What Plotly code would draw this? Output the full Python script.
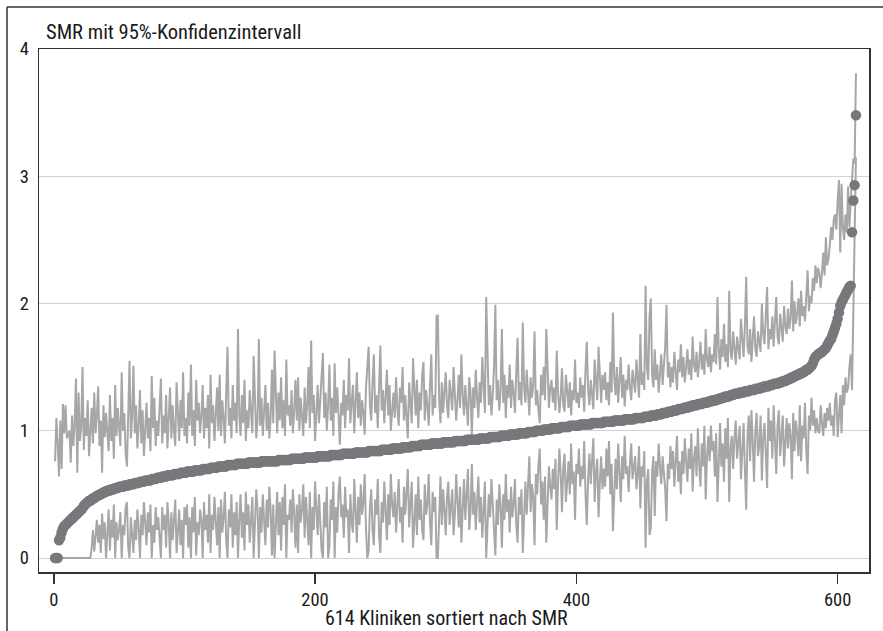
import plotly.graph_objects as go

# ---------------- data ----------------
clinic = list(range(1, 615))

smr = [
    0.00, 0.00, 0.00, 0.14, 0.16, 0.20, 0.23, 0.25, 0.26, 0.27, 0.28, 0.29, 0.30, 0.31, 0.32, 0.33, 0.34, 0.35, 0.36, 0.37,
    0.38, 0.39, 0.41, 0.42, 0.43, 0.44, 0.45, 0.45, 0.46, 0.47, 0.47, 0.48, 0.49, 0.49, 0.50, 0.50, 0.51, 0.51, 0.52, 0.52,
    0.53, 0.53, 0.53, 0.54, 0.54, 0.54, 0.55, 0.55, 0.55, 0.56, 0.56, 0.56, 0.56, 0.57, 0.57, 0.57, 0.57, 0.58, 0.58, 0.58,
    0.58, 0.59, 0.59, 0.59, 0.59, 0.60, 0.60, 0.60, 0.60, 0.61, 0.61, 0.61, 0.61, 0.61, 0.62, 0.62, 0.62, 0.62, 0.63, 0.63,
    0.63, 0.63, 0.64, 0.64, 0.64, 0.64, 0.65, 0.65, 0.65, 0.65, 0.65, 0.66, 0.66, 0.66, 0.66, 0.66, 0.67, 0.67, 0.67, 0.67,
    0.67, 0.68, 0.68, 0.68, 0.68, 0.68, 0.68, 0.69, 0.69, 0.69, 0.69, 0.69, 0.69, 0.70, 0.70, 0.70, 0.70, 0.70, 0.70, 0.71,
    0.71, 0.71, 0.71, 0.71, 0.71, 0.72, 0.72, 0.72, 0.72, 0.72, 0.72, 0.72, 0.73, 0.73, 0.73, 0.73, 0.73, 0.73, 0.73, 0.74,
    0.74, 0.74, 0.74, 0.74, 0.74, 0.74, 0.74, 0.74, 0.75, 0.75, 0.75, 0.75, 0.75, 0.75, 0.75, 0.75, 0.75, 0.75, 0.76, 0.76,
    0.76, 0.76, 0.76, 0.76, 0.76, 0.76, 0.76, 0.76, 0.76, 0.76, 0.76, 0.77, 0.77, 0.77, 0.77, 0.77, 0.77, 0.77, 0.77, 0.77,
    0.77, 0.78, 0.78, 0.78, 0.78, 0.78, 0.78, 0.78, 0.78, 0.78, 0.78, 0.79, 0.79, 0.79, 0.79, 0.79, 0.79, 0.79, 0.79, 0.79,
    0.79, 0.80, 0.80, 0.80, 0.80, 0.80, 0.80, 0.80, 0.80, 0.80, 0.80, 0.81, 0.81, 0.81, 0.81, 0.81, 0.81, 0.81, 0.81, 0.81,
    0.82, 0.82, 0.82, 0.82, 0.82, 0.82, 0.82, 0.82, 0.82, 0.82, 0.83, 0.83, 0.83, 0.83, 0.83, 0.83, 0.83, 0.83, 0.83, 0.83,
    0.84, 0.84, 0.84, 0.84, 0.84, 0.84, 0.84, 0.84, 0.84, 0.84, 0.85, 0.85, 0.85, 0.85, 0.85, 0.85, 0.85, 0.85, 0.86, 0.86,
    0.86, 0.86, 0.86, 0.86, 0.86, 0.86, 0.87, 0.87, 0.87, 0.87, 0.87, 0.87, 0.87, 0.88, 0.88, 0.88, 0.88, 0.88, 0.88, 0.88,
    0.89, 0.89, 0.89, 0.89, 0.89, 0.89, 0.89, 0.89, 0.90, 0.90, 0.90, 0.90, 0.90, 0.90, 0.90, 0.90, 0.90, 0.91, 0.91, 0.91,
    0.91, 0.91, 0.91, 0.91, 0.91, 0.91, 0.92, 0.92, 0.92, 0.92, 0.92, 0.92, 0.92, 0.92, 0.92, 0.93, 0.93, 0.93, 0.93, 0.93,
    0.93, 0.93, 0.93, 0.93, 0.93, 0.94, 0.94, 0.94, 0.94, 0.94, 0.94, 0.94, 0.94, 0.95, 0.95, 0.95, 0.95, 0.95, 0.95, 0.95,
    0.95, 0.96, 0.96, 0.96, 0.96, 0.96, 0.96, 0.96, 0.97, 0.97, 0.97, 0.97, 0.97, 0.97, 0.97, 0.98, 0.98, 0.98, 0.98, 0.98,
    0.98, 0.98, 0.99, 0.99, 0.99, 0.99, 0.99, 0.99, 1.00, 1.00, 1.00, 1.00, 1.00, 1.00, 1.01, 1.01, 1.01, 1.01, 1.01, 1.01,
    1.02, 1.02, 1.02, 1.02, 1.02, 1.02, 1.02, 1.03, 1.03, 1.03, 1.03, 1.03, 1.03, 1.03, 1.04, 1.04, 1.04, 1.04, 1.04, 1.04,
    1.04, 1.04, 1.05, 1.05, 1.05, 1.05, 1.05, 1.05, 1.05, 1.05, 1.05, 1.06, 1.06, 1.06, 1.06, 1.06, 1.06, 1.06, 1.06, 1.06,
    1.07, 1.07, 1.07, 1.07, 1.07, 1.07, 1.07, 1.07, 1.08, 1.08, 1.08, 1.08, 1.08, 1.08, 1.08, 1.08, 1.09, 1.09, 1.09, 1.09,
    1.09, 1.09, 1.09, 1.09, 1.10, 1.10, 1.10, 1.10, 1.10, 1.10, 1.10, 1.11, 1.11, 1.11, 1.11, 1.11, 1.12, 1.12, 1.12, 1.12,
    1.12, 1.13, 1.13, 1.13, 1.13, 1.14, 1.14, 1.14, 1.14, 1.15, 1.15, 1.15, 1.15, 1.16, 1.16, 1.16, 1.16, 1.17, 1.17, 1.17,
    1.17, 1.18, 1.18, 1.18, 1.18, 1.19, 1.19, 1.19, 1.20, 1.20, 1.20, 1.20, 1.21, 1.21, 1.21, 1.21, 1.22, 1.22, 1.22, 1.22,
    1.23, 1.23, 1.23, 1.24, 1.24, 1.24, 1.24, 1.25, 1.25, 1.25, 1.26, 1.26, 1.26, 1.27, 1.27, 1.27, 1.27, 1.28, 1.28, 1.28,
    1.29, 1.29, 1.29, 1.29, 1.30, 1.30, 1.30, 1.30, 1.31, 1.31, 1.31, 1.31, 1.32, 1.32, 1.32, 1.32, 1.33, 1.33, 1.33, 1.33,
    1.34, 1.34, 1.34, 1.35, 1.35, 1.35, 1.35, 1.36, 1.36, 1.36, 1.37, 1.37, 1.37, 1.37, 1.38, 1.38, 1.38, 1.39, 1.39, 1.39,
    1.40, 1.40, 1.41, 1.41, 1.42, 1.42, 1.43, 1.43, 1.44, 1.44, 1.45, 1.45, 1.46, 1.46, 1.47, 1.48, 1.48, 1.49, 1.50, 1.51,
    1.53, 1.56, 1.58, 1.59, 1.60, 1.61, 1.61, 1.62, 1.63, 1.64, 1.65, 1.67, 1.69, 1.71, 1.72, 1.75, 1.78, 1.81, 1.84, 1.88,
    1.93, 1.98, 2.01, 2.03, 2.05, 2.07, 2.09, 2.11, 2.13, 2.14, 2.56, 2.81, 2.93, 3.48,
]

ci_upper = [
    0.76, 1.10, 0.90, 0.64, 1.08, 0.70, 1.21, 0.98, 1.20, 0.94, 0.97, 1.00, 0.75, 1.12, 0.88, 1.06, 1.41, 0.67, 1.30, 0.92,
    1.02, 1.50, 0.85, 1.10, 0.96, 1.24, 0.80, 1.05, 1.18, 0.90, 1.30, 0.98, 1.12, 1.35, 0.88, 1.08, 0.67, 1.20, 0.95, 1.14,
    1.02, 0.84, 1.28, 0.92, 1.10, 0.78, 1.36, 0.96, 1.18, 1.06, 0.88, 1.46, 1.00, 1.14, 0.82, 0.72, 1.24, 1.55, 0.94, 1.12,
    1.51, 0.98, 1.20, 0.86, 1.05, 1.32, 0.90, 1.16, 0.80, 1.00, 1.22, 0.94, 1.10, 0.84, 1.43, 1.02, 1.26, 0.88, 1.08, 0.96,
    1.18, 1.41, 0.90, 1.12, 0.98, 1.28, 0.86, 1.06, 1.34, 0.94, 1.20, 1.00, 0.88, 1.38, 1.08, 0.92, 1.24, 1.02, 1.46, 0.96,
    1.10, 0.90, 1.30, 1.04, 1.52, 0.96, 1.16, 0.88, 1.40, 1.08, 1.22, 0.98, 1.12, 1.36, 0.94, 1.18, 1.02, 1.28, 0.86, 1.44,
    1.06, 1.20, 0.92, 1.14, 1.34, 1.00, 1.44, 0.96, 1.24, 1.10, 0.90, 1.30, 1.66, 1.04, 1.18, 0.94, 1.36, 1.08, 1.22, 0.98,
    1.80, 1.12, 0.96, 1.28, 1.06, 1.40, 0.92, 1.16, 1.02, 1.32, 1.10, 0.98, 1.59, 1.20, 0.94, 1.08, 1.72, 1.04, 1.26, 0.96,
    1.14, 1.36, 1.00, 1.22, 0.94, 1.10, 1.48, 1.06, 1.63, 1.18, 0.98, 1.30, 1.08, 1.42, 1.02, 1.24, 0.96, 1.56, 1.12, 1.20,
    1.04, 1.32, 0.98, 1.16, 1.40, 1.08, 1.42, 1.00, 1.26, 1.12, 0.96, 1.34, 1.06, 1.20, 1.50, 1.02, 1.71, 1.14, 1.28, 0.92,
    1.18, 1.36, 1.06, 1.24, 1.44, 1.61, 1.10, 1.30, 1.00, 1.20, 1.52, 1.08, 1.26, 0.96, 1.53, 1.14, 1.34, 1.04, 0.89, 1.22,
    1.12, 1.40, 1.02, 1.28, 1.16, 1.57, 1.06, 1.22, 1.36, 0.98, 1.18, 1.46, 1.10, 1.30, 1.04, 1.24, 1.14, 0.97, 1.34, 1.50,
    1.66, 1.20, 1.08, 1.38, 1.60, 1.14, 1.28, 1.02, 1.44, 1.67, 1.16, 1.32, 1.06, 1.24, 1.48, 1.12, 1.36, 1.00, 1.20, 1.30,
    1.10, 1.42, 1.18, 1.04, 1.34, 1.22, 1.50, 1.08, 1.28, 1.14, 0.94, 1.38, 1.20, 1.06, 1.57, 1.26, 1.12, 1.40, 1.02, 1.30,
    1.16, 1.44, 1.54, 1.08, 1.32, 1.20, 1.04, 1.36, 1.60, 1.12, 1.28, 1.18, 1.90, 1.91, 1.24, 1.06, 1.38, 1.14, 1.30, 1.46,
    1.20, 1.10, 1.40, 1.26, 1.16, 1.50, 1.32, 1.08, 1.24, 1.44, 1.18, 1.60, 1.28, 1.12, 1.36, 1.22, 1.04, 1.42, 1.30, 0.96,
    1.34, 1.18, 1.48, 1.26, 1.10, 1.38, 1.22, 1.58, 1.30, 1.14, 2.05, 1.46, 1.20, 1.36, 1.12, 1.28, 1.50, 1.99, 1.24, 1.40,
    1.16, 1.32, 1.80, 1.22, 1.44, 1.10, 1.36, 1.26, 1.52, 1.18, 1.40, 1.30, 1.14, 1.46, 1.73, 1.24, 1.38, 1.20, 1.85, 1.34,
    1.22, 1.48, 1.30, 1.12, 1.42, 1.26, 1.36, 1.78, 1.20, 1.32, 1.16, 1.06, 1.44, 1.28, 1.50, 1.24, 1.80, 1.38, 1.18, 1.34,
    1.40, 1.22, 1.34, 1.16, 1.63, 1.30, 1.14, 1.26, 1.49, 1.20, 1.15, 1.44, 1.28, 1.18, 1.38, 1.12, 1.32, 1.24, 1.56, 1.22,
    1.30, 1.18, 1.42, 1.26, 1.36, 1.15, 1.48, 1.70, 1.32, 1.20, 1.40, 1.28, 1.17, 1.56, 1.34, 1.24, 1.66, 1.38, 1.22, 1.44,
    1.32, 1.46, 1.24, 1.38, 1.20, 1.54, 1.30, 1.93, 1.42, 1.28, 1.50, 1.22, 1.36, 1.58, 1.26, 1.44, 1.19, 1.40, 1.32, 1.52,
    1.34, 1.24, 1.48, 1.38, 1.30, 1.56, 1.42, 1.26, 1.76, 1.36, 1.46, 1.32, 2.14, 1.50, 1.40, 1.90, 2.04, 1.44, 1.34, 1.64,
    1.40, 1.52, 1.30, 1.44, 1.60, 1.36, 1.48, 1.66, 1.99, 1.42, 1.54, 1.34, 1.50, 1.38, 1.62, 1.44, 1.32, 1.56, 1.46, 1.68,
    1.42, 1.58, 1.38, 1.50, 1.64, 1.44, 1.56, 1.40, 1.74, 1.52, 1.46, 1.62, 1.42, 1.54, 1.70, 1.48, 1.60, 1.44, 1.80, 1.56,
    1.50, 1.66, 1.46, 1.60, 1.54, 1.76, 1.52, 2.05, 1.64, 1.48, 1.72, 1.58, 1.84, 1.54, 1.68, 1.50, 2.10, 1.62, 1.56, 1.78,
    1.60, 1.52, 1.74, 1.64, 1.56, 1.88, 1.68, 1.58, 1.82, 2.21, 1.66, 1.60, 1.80, 1.54, 1.72, 1.90, 1.64, 1.58, 1.78, 1.70,
    1.62, 2.00, 1.76, 1.68, 1.86, 2.13, 1.64, 1.80, 1.72, 1.90, 1.66, 1.84, 2.05, 1.74, 1.68, 1.92, 1.78, 1.70, 1.98, 1.82,
    1.76, 1.96, 1.80, 1.88, 2.18, 1.78, 2.02, 1.84, 1.92, 2.04, 1.82, 2.10, 1.90, 1.98, 1.86, 2.10, 2.26, 1.94, 2.06, 2.00,
    2.20, 2.10, 2.30, 2.16, 2.28, 2.24, 2.12, 2.24, 2.40, 2.22, 2.52, 2.30, 2.35, 2.46, 2.60, 2.50, 2.66, 2.70, 2.58, 2.81,
    2.97, 2.40, 2.94, 2.60, 2.50, 2.70, 2.56, 2.92, 2.60, 2.80, 3.00, 3.14, 3.10, 3.81,
]

ci_lower = [
    0.00, 0.00, 0.00, 0.00, 0.00, 0.00, 0.00, 0.00, 0.00, 0.00, 0.00, 0.00, 0.00, 0.00, 0.00, 0.00, 0.00, 0.00, 0.00, 0.00,
    0.00, 0.00, 0.00, 0.00, 0.00, 0.00, 0.00, 0.00, 0.08, 0.22, 0.05, 0.18, 0.30, 0.12, 0.26, 0.04, 0.35, 0.15, 0.28, 0.00,
    0.24, 0.38, 0.06, 0.30, 0.16, 0.42, 0.00, 0.28, 0.14, 0.22, 0.36, 0.00, 0.26, 0.18, 0.40, 0.44, 0.08, 0.00, 0.32, 0.20,
    0.04, 0.30, 0.14, 0.38, 0.24, 0.00, 0.34, 0.18, 0.44, 0.28, 0.10, 0.36, 0.20, 0.42, 0.00, 0.26, 0.12, 0.40, 0.22, 0.32,
    0.16, 0.00, 0.40, 0.22, 0.34, 0.08, 0.44, 0.28, 0.00, 0.36, 0.14, 0.30, 0.46, 0.04, 0.24, 0.38, 0.10, 0.30, 0.00, 0.40,
    0.26, 0.42, 0.08, 0.32, 0.00, 0.40, 0.20, 0.48, 0.02, 0.28, 0.18, 0.38, 0.30, 0.00, 0.44, 0.22, 0.34, 0.12, 0.50, 0.04,
    0.34, 0.22, 0.48, 0.28, 0.10, 0.40, 0.00, 0.46, 0.20, 0.32, 0.52, 0.14, 0.00, 0.38, 0.24, 0.50, 0.08, 0.36, 0.18, 0.44,
    0.00, 0.30, 0.50, 0.16, 0.36, 0.06, 0.52, 0.26, 0.42, 0.12, 0.34, 0.48, 0.00, 0.22, 0.54, 0.38, 0.00, 0.40, 0.20, 0.50,
    0.32, 0.10, 0.46, 0.24, 0.56, 0.38, 0.02, 0.42, 0.00, 0.28, 0.52, 0.18, 0.44, 0.06, 0.48, 0.26, 0.58, 0.00, 0.34, 0.30,
    0.46, 0.20, 0.54, 0.36, 0.08, 0.42, 0.04, 0.50, 0.28, 0.38, 0.58, 0.16, 0.48, 0.30, 0.10, 0.52, 0.00, 0.40, 0.22, 0.60,
    0.34, 0.18, 0.50, 0.28, 0.06, 0.00, 0.44, 0.24, 0.56, 0.00, 0.10, 0.46, 0.30, 0.60, 0.00, 0.40, 0.20, 0.52, 0.64, 0.32,
    0.42, 0.16, 0.56, 0.32, 0.38, 0.04, 0.50, 0.28, 0.20, 0.62, 0.40, 0.12, 0.48, 0.26, 0.58, 0.34, 0.44, 0.66, 0.22, 0.00,
    0.06, 0.40, 0.54, 0.22, 0.10, 0.46, 0.34, 0.62, 0.18, 0.04, 0.44, 0.28, 0.60, 0.38, 0.14, 0.50, 0.26, 0.66, 0.42, 0.32,
    0.52, 0.20, 0.44, 0.62, 0.28, 0.40, 0.12, 0.56, 0.34, 0.48, 0.70, 0.24, 0.42, 0.60, 0.08, 0.36, 0.50, 0.18, 0.64, 0.30,
    0.46, 0.22, 0.14, 0.58, 0.34, 0.42, 0.66, 0.28, 0.10, 0.52, 0.36, 0.48, 0.00, 0.00, 0.40, 0.64, 0.26, 0.54, 0.38, 0.18,
    0.48, 0.60, 0.26, 0.40, 0.54, 0.18, 0.34, 0.66, 0.44, 0.24, 0.56, 0.12, 0.38, 0.62, 0.30, 0.50, 0.70, 0.22, 0.36, 0.74,
    0.34, 0.52, 0.22, 0.44, 0.64, 0.28, 0.48, 0.16, 0.38, 0.60, 0.00, 0.20, 0.50, 0.32, 0.62, 0.42, 0.18, 0.02, 0.46, 0.26,
    0.58, 0.40, 0.08, 0.50, 0.30, 0.66, 0.36, 0.46, 0.20, 0.56, 0.32, 0.42, 0.62, 0.26, 0.12, 0.48, 0.34, 0.54, 0.04, 0.38,
    0.60, 0.34, 0.52, 0.80, 0.36, 0.58, 0.48, 0.10, 0.66, 0.50, 0.74, 0.86, 0.42, 0.60, 0.30, 0.64, 0.12, 0.46, 0.72, 0.56,
    0.46, 0.70, 0.54, 0.78, 0.22, 0.60, 0.86, 0.66, 0.36, 0.72, 0.82, 0.44, 0.64, 0.76, 0.50, 0.90, 0.58, 0.68, 0.30, 0.74,
    0.66, 0.86, 0.56, 0.72, 0.62, 0.92, 0.50, 0.26, 0.64, 0.82, 0.58, 0.74, 0.94, 0.44, 0.68, 0.78, 0.32, 0.60, 0.80, 0.54,
    0.70, 0.56, 0.86, 0.64, 0.92, 0.50, 0.74, 0.21, 0.60, 0.78, 0.54, 0.90, 0.68, 0.44, 0.80, 0.62, 0.96, 0.66, 0.72, 0.52,
    0.74, 0.90, 0.62, 0.70, 0.80, 0.54, 0.66, 0.88, 0.39, 0.72, 0.64, 0.84, 0.08, 0.60, 0.70, 0.18, 0.24, 0.68, 0.80, 0.33,
    0.76, 0.64, 0.90, 0.72, 0.58, 0.80, 0.68, 0.54, 0.29, 0.74, 0.62, 0.88, 0.70, 0.84, 0.56, 0.72, 0.96, 0.60, 0.76, 0.50,
    0.84, 0.66, 0.94, 0.76, 0.60, 0.86, 0.70, 0.98, 0.52, 0.78, 0.88, 0.64, 1.02, 0.74, 0.56, 0.90, 0.72, 1.04, 0.46, 0.80,
    0.96, 0.76, 1.04, 0.84, 0.92, 0.64, 0.98, 0.44, 0.80, 1.06, 0.72, 0.90, 0.60, 1.02, 0.78, 1.10, 0.44, 0.86, 0.96, 0.70,
    0.94, 1.08, 0.78, 0.90, 1.04, 0.62, 0.86, 1.06, 0.70, 0.38, 0.96, 1.12, 0.76, 1.16, 0.92, 0.60, 1.00, 1.14, 0.80, 0.88,
    1.12, 0.61, 0.94, 1.06, 0.82, 0.55, 1.18, 0.92, 1.08, 0.78, 1.20, 0.90, 0.66, 1.04, 1.16, 0.80, 0.98, 1.12, 0.72, 0.96,
    1.10, 0.86, 1.06, 0.96, 0.62, 1.14, 0.84, 1.08, 0.98, 0.80, 1.20, 0.76, 1.04, 0.94, 1.22, 0.84, 0.66, 1.12, 1.00, 1.26,
    1.04, 1.16, 0.98, 1.10, 1.00, 0.98, 1.20, 1.06, 0.96, 1.14, 1.02, 1.18, 1.08, 1.22, 1.04, 1.12, 0.96, 1.24, 1.30, 0.95,
    1.10, 1.28, 0.98, 1.36, 1.20, 1.42, 1.30, 1.34, 1.50, 1.60, 1.32, 1.90, 2.30, 3.15,
]

x_ticks = [0, 200, 400, 600]
y_ticks = [0, 1, 2, 3, 4]
title_text = "SMR mit 95%-Konfidenzintervall"
x_title_text = "614 Kliniken sortiert nach SMR"

assert len(smr) == len(clinic) == len(ci_upper) == len(ci_lower), (len(smr), len(ci_upper), len(ci_lower))

# ---------------- figure ----------------
FONT = "Liberation Sans Narrow, Roboto Condensed, Arial Narrow, Roboto, sans-serif"
W, H = 883, 631
ML, MR, MT, MB = 39, 14, 49, 59
PW, PH = W - ML - MR, H - MT - MB


def px_x(px):
    return (px - ML) / PW


def px_y(py):
    return (H - MB - py) / PH


line_col = "#a7a7aa"
dot_col = "#78787c"
ink = "#1a1a1a"

fig = go.Figure()
fig.add_trace(go.Scatter(x=clinic, y=ci_upper, mode="lines",
                         line=dict(color=line_col, width=2), hoverinfo="skip"))
fig.add_trace(go.Scatter(x=clinic, y=ci_lower, mode="lines",
                         line=dict(color=line_col, width=2), hoverinfo="skip"))
fig.add_trace(go.Scatter(x=clinic, y=smr, mode="markers",
                         marker=dict(color=dot_col, size=10.5, line=dict(width=0))))

fig.update_layout(
    width=W, height=H,
    margin=dict(l=ML, r=MR, t=MT, b=MB, pad=0),
    paper_bgcolor="white", plot_bgcolor="white",
    showlegend=False,
    font=dict(family=FONT, size=18.5, color=ink),
    xaxis=dict(range=[-11.3, 624], tickvals=x_ticks, ticks="outside", ticklen=10,
               tickwidth=1.5, tickcolor="#333333", showline=True, mirror=True,
               linecolor="#333333", linewidth=1.5, showgrid=False, zeroline=False,
               tickfont=dict(family=FONT, size=18.5, color=ink)),
    yaxis=dict(range=[-0.11, 4.0], tickvals=y_ticks, ticks="outside", ticklen=5,
               tickcolor="rgba(0,0,0,0)", showline=True, mirror=True,
               linecolor="#333333", linewidth=1.5, showgrid=True,
               gridcolor="#d2d2d2", gridwidth=1, zeroline=False,
               tickfont=dict(family=FONT, size=18.5, color=ink)),
    annotations=[
        dict(text=title_text, xref="paper", yref="paper", x=px_x(44), y=px_y(32),
             xanchor="left", yanchor="middle", showarrow=False,
             font=dict(family=FONT, size=20.5, color=ink)),
        dict(text=x_title_text, xref="paper", yref="paper", x=px_x(446.5), y=px_y(618),
             xanchor="center", yanchor="middle", showarrow=False,
             font=dict(family=FONT, size=20, color=ink)),
    ],
    shapes=[
        dict(type="line", xref="paper", yref="paper", x0=px_x(7), x1=px_x(7),
             y0=px_y(H + 2), y1=px_y(7), line=dict(color="#333333", width=1.5)),
        dict(type="line", xref="paper", yref="paper", x0=px_x(7), x1=px_x(W + 2),
             y0=px_y(7), y1=px_y(7), line=dict(color="#333333", width=1.5)),
    ],
)

fig.write_html(
    "out.html",
    config={"displayModeBar": False, "staticPlot": True},
    post_script="document.body.style.margin='0';document.body.style.padding='0';"
                "document.body.style.overflow='hidden';",
)
